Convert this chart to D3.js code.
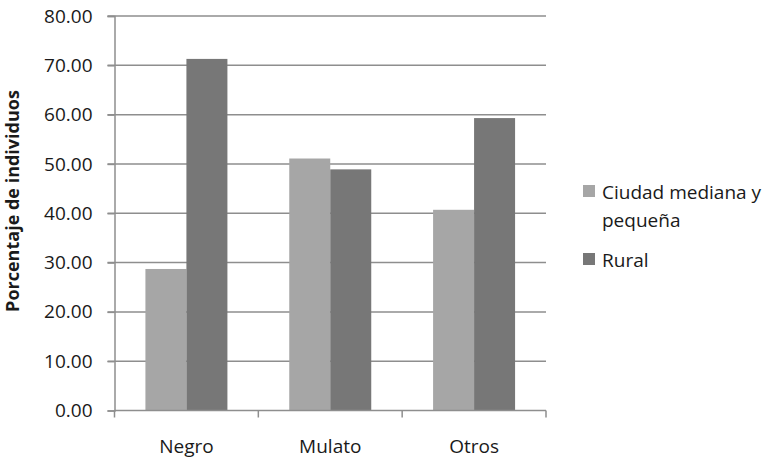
<!DOCTYPE html>
<html>
<head>
<meta charset="utf-8">
<script src="https://cdn.jsdelivr.net/npm/d3@7"></script>
<style>
  html, body { margin: 0; padding: 0; background: #fff; }
  svg { display: block; font-family: "Open Sans", sans-serif; }
</style>
</head>
<body>
<svg id="chart" width="767" height="459"></svg>
<script>
// Share of individuals by group and place of residence
const categories = ["Negro", "Mulato", "Otros"];
const seriesNames = ["Ciudad mediana y pequeña", "Rural"];
const ciudad = [28.7, 51.1, 40.7];
const rural = [71.3, 48.9, 59.3];
const yTicks = [0, 10, 20, 30, 40, 50, 60, 70, 80];
const colors = ["#a6a6a6", "#777777"];

const svg = d3.select("#chart");
const plotLeft = 114.5, plotRight = 546, plotTop = 16, plotBottom = 410.5;

const x0 = d3.scaleBand().domain(categories).range([plotLeft, plotRight]).padding(0);
const groupW = 82;
const x1 = d3.scaleBand().domain(seriesNames)
  .range([(x0.bandwidth() - groupW) / 2, (x0.bandwidth() + groupW) / 2]).padding(0);
const y = d3.scaleLinear().domain([0, 80]).range([plotBottom, plotTop]);

// horizontal gridlines
svg.append("g").selectAll("line").data(yTicks.slice(1)).join("line")
  .attr("x1", plotLeft - 7).attr("x2", plotRight)
  .attr("y1", d => y(d)).attr("y2", d => y(d))
  .attr("stroke", "#8e8e8e").attr("stroke-width", 1.5);

// y axis
const yAxis = svg.append("g").attr("transform", `translate(${plotLeft},0)`)
  .call(d3.axisLeft(y).tickValues(yTicks).tickFormat(d3.format(".2f")).tickSize(7).tickPadding(15));
yAxis.select(".domain").attr("stroke", "#8e8e8e").attr("stroke-width", 1.5);
yAxis.selectAll(".tick line").attr("stroke", "#8e8e8e").attr("stroke-width", 1.5);
yAxis.selectAll(".tick text").attr("fill", "#1a1a1a").attr("font-size", 19)
  .attr("font-family", "Open Sans, sans-serif");

// bars
const rows = categories.map((c, i) => ({ cat: c, vals: [ciudad[i], rural[i]] }));
const groups = svg.append("g").selectAll("g").data(rows).join("g")
  .attr("transform", d => `translate(${x0(d.cat)},0)`);
groups.selectAll("rect").data(d => d.vals.map((v, j) => ({ s: seriesNames[j], v, j })))
  .join("rect")
  .attr("x", d => x1(d.s))
  .attr("width", x1.bandwidth())
  .attr("y", d => y(d.v))
  .attr("height", d => y(0) - y(d.v))
  .attr("fill", d => colors[d.j]);

// x axis with ticks between categories
const xAxisG = svg.append("g").attr("transform", `translate(0,${plotBottom})`);
xAxisG.append("line").attr("x1", plotLeft).attr("x2", plotRight)
  .attr("stroke", "#8e8e8e").attr("stroke-width", 1.5);
const bounds = categories.map(c => x0(c)).concat([x0(categories[categories.length - 1]) + x0.bandwidth()]);
xAxisG.selectAll("line.tk").data(bounds).join("line").attr("class", "tk")
  .attr("x1", d => d).attr("x2", d => d).attr("y1", 0).attr("y2", 7)
  .attr("stroke", "#8e8e8e").attr("stroke-width", 1.5);
xAxisG.selectAll("text").data(categories).join("text")
  .attr("x", d => x0(d) + x0.bandwidth() / 2)
  .attr("y", 42)
  .attr("text-anchor", "middle")
  .attr("font-size", 19)
  .attr("fill", "#1a1a1a")
  .text(d => d);

// y axis title
svg.append("text")
  .attr("transform", "translate(19,201) rotate(-90)")
  .attr("text-anchor", "middle")
  .attr("font-size", 18)
  .attr("font-weight", "bold")
  .attr("fill", "#1a1a1a")
  .text("Porcentaje de individuos");

// legend
const legend = svg.append("g");
const legendItems = [
  { lines: ["Ciudad mediana y", "pequeña"], color: colors[0], y: 199 },
  { lines: ["Rural"], color: colors[1], y: 267 }
];
legendItems.forEach(item => {
  legend.append("rect").attr("x", 583).attr("y", item.y - 14)
    .attr("width", 12).attr("height", 12).attr("fill", item.color);
  const t = legend.append("text").attr("x", 602).attr("y", item.y)
    .attr("font-size", 19).attr("fill", "#1a1a1a");
  item.lines.forEach((ln, k) => {
    t.append("tspan").attr("x", 602).attr("dy", k === 0 ? 0 : 28).text(ln);
  });
});
</script>
</body>
</html>
